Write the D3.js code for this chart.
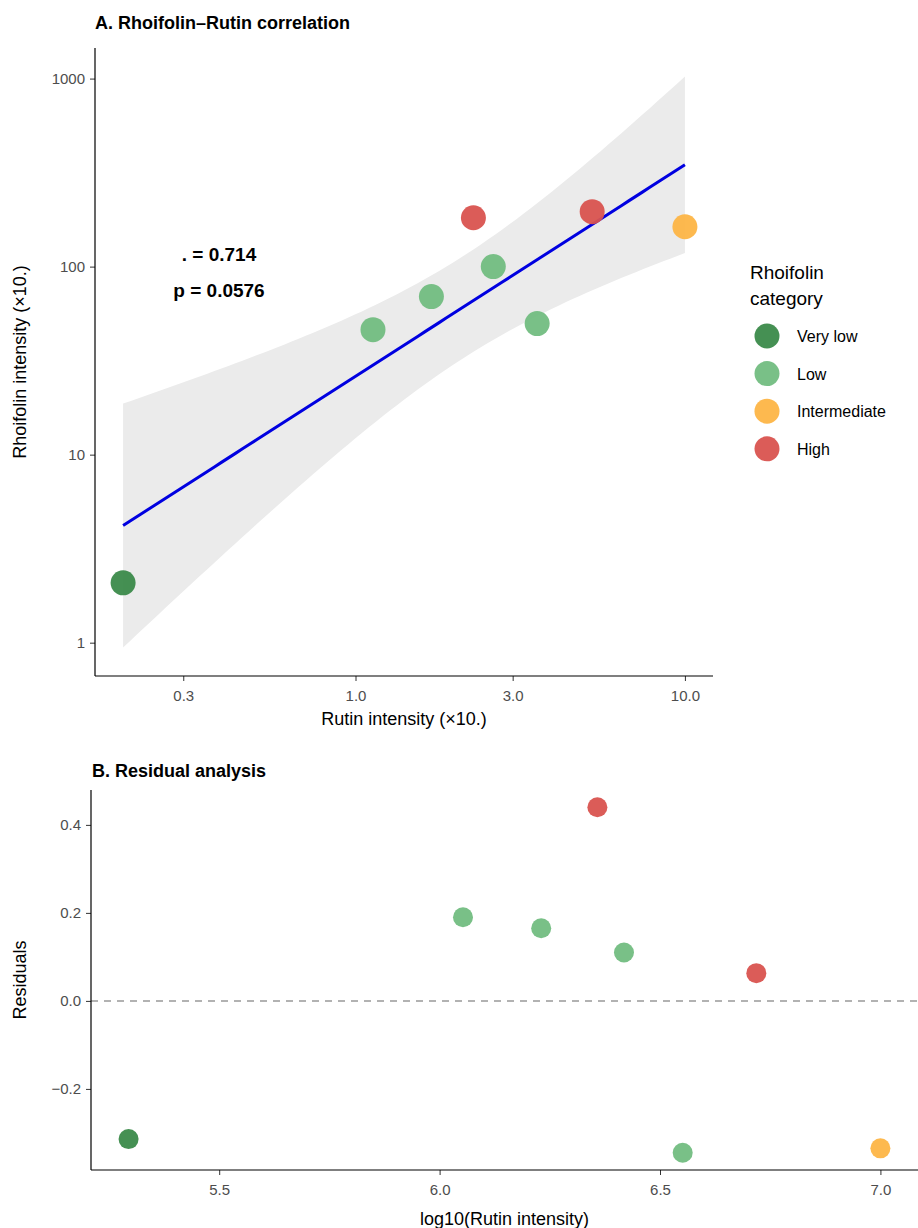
<!DOCTYPE html>
<html lang="en">
<head>
  <meta charset="UTF-8">
  <title>Rhoifolin–Rutin correlation</title>
  <style>
    body {
      margin: 0;
      padding: 0;
      background-color: #fff;
      font-family: "Liberation Sans", Arial, sans-serif;
    }
    .tick text {
      fill: #4d4d4d;
      font-size: 15px;
    }
    .tick line {
      stroke: #333;
    }
  </style>
</head>
<body>
  <svg id="chart"></svg>

  <script src="https://d3js.org/d3.v7.min.js"></script>
  <script>
    const width = 918;
    const height = 1228;

    // data (rutin / rhoifolin in units of x10^6)
    const categories = ["Very low", "Low", "Intermediate", "High"];
    const colors = ["#3b8a4a", "#72bd81", "#fdb546", "#d9534f"];
    const sampleCat = ["Very low", "Low", "Low", "Low", "Low", "High", "High", "Intermediate"];
    const rutin = [0.197, 1.13, 1.70, 2.62, 3.56, 2.28, 5.23, 10.0];
    const rhoifolin = [2.08, 46.2, 69.3, 100, 49.8, 182, 196, 163];
    const residuals = [-0.314, 0.19, 0.165, 0.11, -0.345, 0.44, 0.063, -0.335];
    const xTicksA = [0.3, 1, 3, 10];
    const yTicksA = [1, 10, 100, 1000];
    const xTicksB = [5.5, 6.0, 6.5, 7.0];
    const yTicksB = [-0.2, 0.0, 0.2, 0.4];
    const statLabels = [". = 0.714", "p = 0.0576"];

    const svg = d3.select("#chart").attr("width", width).attr("height", height);
    const color = d3.scaleOrdinal().domain(categories).range(colors);

    // ggplot-like 5% expansion
    function expand(ext) {
      const r = ext[1] - ext[0];
      return [ext[0] - r * 0.05, ext[1] + r * 0.05];
    }

    // ---------- linear model on log10 scale ----------
    const lx = rutin.map(Math.log10);
    const ly = rhoifolin.map(Math.log10);
    const n = lx.length;
    const mx = d3.mean(lx), my = d3.mean(ly);
    const sxx = d3.sum(lx, v => (v - mx) ** 2);
    const sxy = d3.sum(lx.map((v, i) => (v - mx) * (ly[i] - my)));
    const slope = sxy / sxx;
    const intercept = my - slope * mx;
    const sse = d3.sum(lx.map((v, i) => (ly[i] - intercept - slope * v) ** 2));
    const s = Math.sqrt(sse / (n - 2));
    const tcrit = 2.4469; // t(0.975, df = 6)

    const xExt = d3.extent(lx);
    const band = d3.range(0, 81).map(i => {
      const x = xExt[0] + (xExt[1] - xExt[0]) * i / 80;
      const fit = intercept + slope * x;
      const se = s * Math.sqrt(1 / n + (x - mx) ** 2 / sxx);
      return { x: x, fit: fit, lo: fit - tcrit * se, hi: fit + tcrit * se };
    });

    // ---------- Panel A ----------
    const A = { left: 95, right: 713, top: 48, bottom: 676 };
    const xDomA = expand(xExt).map(v => Math.pow(10, v));
    const yDomA = expand([d3.min([d3.min(ly), d3.min(band, d => d.lo)]),
                          d3.max([d3.max(ly), d3.max(band, d => d.hi)])]).map(v => Math.pow(10, v));

    const xA = d3.scaleLog().domain(xDomA).range([A.left, A.right]);
    const yA = d3.scaleLog().domain(yDomA).range([A.bottom, A.top]);

    const gA = svg.append("g");

    gA.append("path")
      .datum(band)
      .attr("fill", "#ebebeb")
      .attr("d", d3.area()
        .x(d => xA(Math.pow(10, d.x)))
        .y0(d => yA(Math.pow(10, d.lo)))
        .y1(d => yA(Math.pow(10, d.hi))));

    gA.append("path")
      .datum(band)
      .attr("fill", "none")
      .attr("stroke", "#0000e0")
      .attr("stroke-width", 3)
      .attr("d", d3.line()
        .x(d => xA(Math.pow(10, d.x)))
        .y(d => yA(Math.pow(10, d.fit))));

    gA.selectAll(".ptA")
      .data(rutin)
      .enter()
      .append("circle")
      .attr("class", "ptA")
      .attr("cx", d => xA(d))
      .attr("cy", (d, i) => yA(rhoifolin[i]))
      .attr("r", 12.5)
      .attr("fill", (d, i) => color(sampleCat[i]))
      .attr("opacity", 0.95);

    gA.append("g")
      .attr("transform", `translate(0,${A.bottom})`)
      .call(d3.axisBottom(xA).tickValues(xTicksA).tickFormat(d3.format(".1f")).tickSize(5).tickPadding(9));

    gA.append("g")
      .attr("transform", `translate(${A.left},0)`)
      .call(d3.axisLeft(yA).tickValues(yTicksA).tickFormat(d3.format("d")).tickSize(5).tickPadding(5));

    gA.selectAll(".domain").remove();
    gA.append("line").attr("x1", A.left).attr("x2", A.right).attr("y1", A.bottom).attr("y2", A.bottom)
      .attr("stroke", "#000").attr("stroke-width", 1.2);
    gA.append("line").attr("x1", A.left).attr("x2", A.left).attr("y1", A.top).attr("y2", A.bottom)
      .attr("stroke", "#000").attr("stroke-width", 1.2);

    gA.selectAll(".stat")
      .data(statLabels)
      .enter()
      .append("text")
      .attr("x", 219)
      .attr("y", (d, i) => 261 + i * 36)
      .attr("text-anchor", "middle")
      .attr("font-weight", "bold")
      .attr("font-size", 19)
      .text(d => d);

    gA.append("text")
      .attr("x", 95).attr("y", 29)
      .attr("font-weight", "bold").attr("font-size", 18)
      .text("A. Rhoifolin–Rutin correlation");

    gA.append("text")
      .attr("x", (A.left + A.right) / 2).attr("y", 725)
      .attr("text-anchor", "middle").attr("font-size", 18)
      .text("Rutin intensity (×10.)");

    gA.append("text")
      .attr("transform", `translate(26,${(A.top + A.bottom) / 2}) rotate(-90)`)
      .attr("text-anchor", "middle").attr("font-size", 18)
      .text("Rhoifolin intensity (×10.)");

    // legend
    const legend = svg.append("g");
    legend.selectAll(".lt")
      .data(["Rhoifolin", "category"])
      .enter()
      .append("text")
      .attr("x", 750)
      .attr("y", (d, i) => 279 + i * 26)
      .attr("font-size", 19)
      .text(d => d);

    const keys = legend.selectAll(".key")
      .data(categories)
      .enter()
      .append("g")
      .attr("transform", (d, i) => `translate(767,${336 + i * 37.6})`);
    keys.append("circle").attr("r", 12.5).attr("fill", d => color(d)).attr("opacity", 0.95);
    keys.append("text").attr("x", 30).attr("y", 6).attr("font-size", 16).text(d => d);

    // ---------- Panel B ----------
    const B = { left: 91, right: 918, top: 790, bottom: 1170 };
    const lxB = rutin.map(v => Math.log10(v * 1e6));
    const xB = d3.scaleLinear().domain(expand(d3.extent(lxB))).range([B.left, B.right]);
    const yB = d3.scaleLinear().domain(expand(d3.extent(residuals))).range([B.bottom, B.top]);

    const gB = svg.append("g");

    gB.append("line")
      .attr("x1", B.left).attr("x2", B.right)
      .attr("y1", yB(0)).attr("y2", yB(0))
      .attr("stroke", "#999").attr("stroke-width", 1.5)
      .attr("stroke-dasharray", "7,6");

    gB.selectAll(".ptB")
      .data(lxB)
      .enter()
      .append("circle")
      .attr("class", "ptB")
      .attr("cx", d => xB(d))
      .attr("cy", (d, i) => yB(residuals[i]))
      .attr("r", 10)
      .attr("fill", (d, i) => color(sampleCat[i]))
      .attr("opacity", 0.95);

    gB.append("g")
      .attr("transform", `translate(0,${B.bottom})`)
      .call(d3.axisBottom(xB).tickValues(xTicksB).tickFormat(d3.format(".1f")).tickSize(5).tickPadding(9));

    gB.append("g")
      .attr("transform", `translate(${B.left},0)`)
      .call(d3.axisLeft(yB).tickValues(yTicksB).tickFormat(d => d3.format(".1f")(d).replace("-", "−")).tickSize(5).tickPadding(5));

    gB.selectAll(".domain").remove();
    gB.append("line").attr("x1", B.left).attr("x2", B.right).attr("y1", B.bottom).attr("y2", B.bottom)
      .attr("stroke", "#000").attr("stroke-width", 1.2);
    gB.append("line").attr("x1", B.left).attr("x2", B.left).attr("y1", B.top).attr("y2", B.bottom)
      .attr("stroke", "#000").attr("stroke-width", 1.2);

    gB.append("text")
      .attr("x", 92).attr("y", 777)
      .attr("font-weight", "bold").attr("font-size", 18)
      .text("B. Residual analysis");

    gB.append("text")
      .attr("x", (B.left + B.right) / 2).attr("y", 1225)
      .attr("text-anchor", "middle").attr("font-size", 18)
      .text("log10(Rutin intensity)");

    gB.append("text")
      .attr("transform", `translate(26,${(B.top + B.bottom) / 2}) rotate(-90)`)
      .attr("text-anchor", "middle").attr("font-size", 18)
      .text("Residuals");
  </script>
</body>
</html>
